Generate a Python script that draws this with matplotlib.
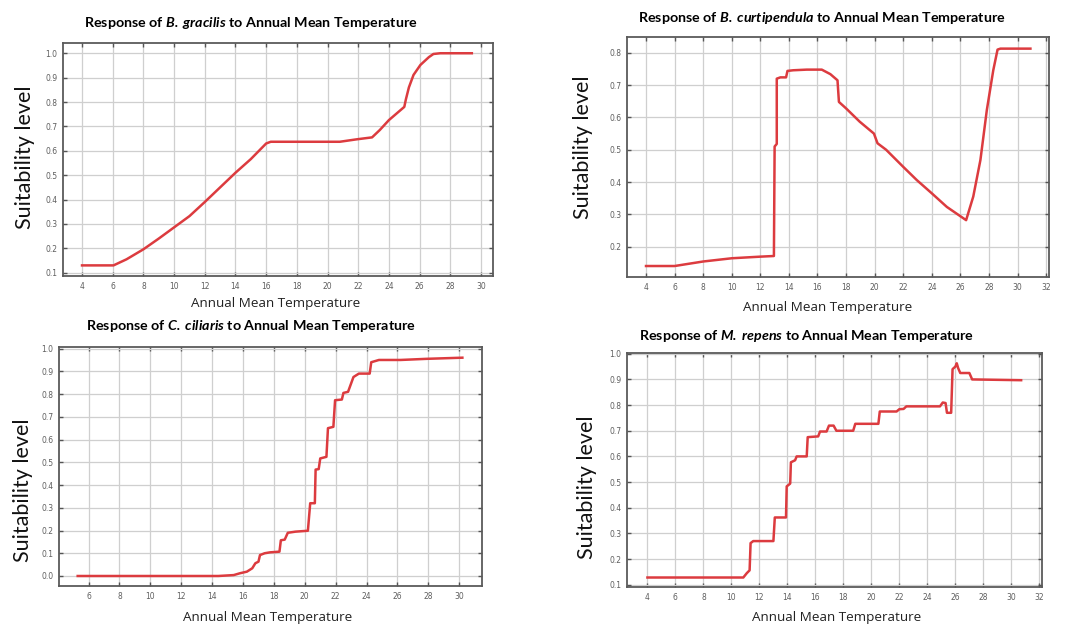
import matplotlib
matplotlib.use('Agg')
import matplotlib.pyplot as plt

plt.rcParams['mathtext.fontset'] = 'custom'
plt.rcParams['mathtext.rm'] = 'Lato:bold'
plt.rcParams['mathtext.bfit'] = 'Lato:italic:bold'

# B. gracilis
grac_t = [4.0, 6.05, 6.9, 8.0, 9.0, 10.0, 11.0, 12.0, 13.0, 14.0, 15.0, 16.0, 16.3,
          20.8, 21.9, 22.9, 23.4, 24.0, 25.0, 25.1, 25.3, 25.6, 26.05, 26.6, 26.9, 27.35, 29.4]
grac_s = [0.13, 0.13, 0.155, 0.196, 0.24, 0.286, 0.332, 0.39, 0.45, 0.51, 0.566, 0.63, 0.637,
          0.637, 0.647, 0.655, 0.685, 0.726, 0.78, 0.81, 0.86, 0.911, 0.952, 0.984, 0.997, 1.0, 1.0]

# B. curtipendula
curt_t = [4.0, 6.0, 8.0, 10.0, 12.0, 12.95, 13.0, 13.15, 13.15, 13.4, 13.8, 13.9, 14.3, 15.25,
          16.3, 16.9, 17.4, 17.5, 18.0, 18.95, 19.95, 20.2, 20.8, 22.0, 22.95, 24.0, 25.05, 26.4,
          26.9, 27.4, 27.85, 28.3, 28.6, 28.8, 30.9]
curt_s = [0.14, 0.14, 0.154, 0.164, 0.169, 0.171, 0.51, 0.518, 0.72, 0.724, 0.724, 0.744, 0.746, 0.748,
          0.748, 0.734, 0.715, 0.648, 0.628, 0.587, 0.55, 0.52, 0.50, 0.447, 0.406, 0.365, 0.323, 0.282,
          0.355, 0.468, 0.623, 0.746, 0.81, 0.813, 0.813]

# C. ciliaris
cili_t = [5.3, 14.4, 15.4, 15.8, 16.25, 16.6, 16.8, 17.0, 17.1, 17.4, 17.75, 18.36, 18.45, 18.7, 18.9,
          19.4, 20.2, 20.35, 20.65, 20.7, 20.9, 21.0, 21.4, 21.5, 21.85, 21.96, 22.4, 22.5, 22.8, 23.15,
          23.5, 24.2, 24.3, 24.8, 26.2, 27.9, 30.2]
cili_s = [0.0, 0.0, 0.004, 0.012, 0.019, 0.034, 0.056, 0.063, 0.092, 0.10, 0.104, 0.107, 0.157, 0.16, 0.19,
          0.195, 0.199, 0.32, 0.32, 0.468, 0.47, 0.517, 0.524, 0.65, 0.656, 0.773, 0.776, 0.805, 0.81, 0.875,
          0.89, 0.89, 0.94, 0.95, 0.95, 0.955, 0.96]

# M. repens
rep_t = [4.0, 10.85, 11.1, 11.3, 11.37, 11.56, 13.0, 13.1, 13.9, 13.95, 14.2, 14.25, 14.55, 14.66, 15.38,
         15.45, 16.2, 16.33, 16.8, 16.97, 17.3, 17.5, 18.7, 18.85, 20.5, 20.6, 21.8, 22.0, 22.3, 22.5,
         24.9, 25.1, 25.3, 25.4, 25.7, 25.8, 26.0, 26.1, 26.2, 26.35, 27.0, 27.2, 30.7]
rep_s = [0.128, 0.128, 0.145, 0.156, 0.262, 0.27, 0.27, 0.362, 0.362, 0.483, 0.494, 0.577, 0.585, 0.6, 0.6,
         0.675, 0.678, 0.697, 0.697, 0.72, 0.72, 0.70, 0.70, 0.727, 0.727, 0.775, 0.775, 0.784, 0.785, 0.795,
         0.795, 0.81, 0.808, 0.77, 0.77, 0.94, 0.95, 0.963, 0.944, 0.925, 0.925, 0.9, 0.897]

species = ['B.\\,gracilis', 'B.\\,curtipendula', 'C.\\,ciliaris', 'M.\\,repens']

W, H = 1082, 625
RED = '#dc3b3f'
fig = plt.figure(figsize=(W / 100, H / 100), dpi=100)


def px_axes(l, t, r, b):
    return fig.add_axes([l / W, 1 - b / H, (r - l) / W, (b - t) / H])


def panel(box, t, s, xlim, xticks, ylim, yticks):
    ax = px_axes(*box)
    ax.plot(t, s, color=RED, lw=1.8, solid_joinstyle='round', zorder=3)
    ax.set_xlim(xlim)
    ax.set_ylim(ylim)
    ax.set_xticks(xticks)
    ax.set_yticks(yticks)
    ax.set_yticklabels([f'{v:.1f}' for v in yticks])
    ax.grid(True, color='#cfcfcf', lw=0.9)
    ax.tick_params(direction='in', length=3, width=1, color='#555555', top=True, right=True,
                   labelsize=5.5, labelcolor='#5e5e5e', pad=4)
    for sp in ax.spines.values():
        sp.set_color('#5a5a5a')
        sp.set_linewidth(1.3)
    return ax


panel((63, 43, 493, 276), grac_t, grac_s, (2.76, 30.78), range(4, 31, 2),
      (0.0865, 1.042), [i / 10 for i in range(1, 11)])
panel((627, 37, 1049, 277), curt_t, curt_s, (2.67, 32.2), range(4, 33, 2),
      (0.106, 0.849), [i / 10 for i in range(2, 9)])
panel((59, 347, 482, 586), cili_t, cili_s, (4.09, 31.47), range(6, 31, 2),
      (-0.044, 1.007), [i / 10 for i in range(0, 11)])
panel((627, 353, 1042, 587), rep_t, rep_s, (2.54, 32.19), range(4, 33, 2),
      (0.091, 1.003), [i / 10 for i in range(1, 11)])

titles = [(251, 23), (822, 18), (251, 326), (807, 336)]
xlabs = [(276, 303), (828, 307), (268, 617), (837, 618)]
ylabs = [(25, 157), (583, 147), (23, 490), (587, 487)]

for sp, (tx, ty), (xx, xy), (yx, yy) in zip(species, titles, xlabs, ylabs):
    fig.text(tx / W, 1 - ty / H,
             r'Response of $\mathbfit{' + sp + r'}$ to Annual Mean Temperature',
             ha='center', va='center', fontsize=10.3, fontweight='bold', family='Lato')
    fig.text(xx / W, 1 - xy / H, 'Annual Mean Temperature', ha='center', va='center',
             fontsize=9.7, family='Open Sans', color='#222222')
    fig.text(yx / W, 1 - yy / H, 'Suitability level', ha='center', va='center',
             rotation=90, fontsize=15.5, family='Lato', color='#111111')

fig.savefig('out.png', dpi=100)
